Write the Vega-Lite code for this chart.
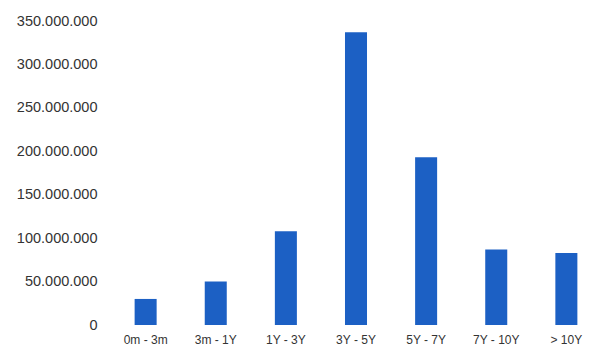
{
  "$schema": "https://vega.github.io/schema/vega-lite/v6.json",
  "width": 468,
  "height": 304,
  "autosize": {"type": "none"},
  "padding": {"left": 122, "top": 21, "right": 0, "bottom": 22},
  "background": "white",
  "config": {
    "view": {"stroke": null},
    "font": "Liberation Sans"
  },
  "data": {
    "values": [
      {"bucket": "0m - 3m", "amount": 30000000},
      {"bucket": "3m - 1Y", "amount": 50000000},
      {"bucket": "1Y - 3Y", "amount": 108000000},
      {"bucket": "3Y - 5Y", "amount": 337000000},
      {"bucket": "5Y - 7Y", "amount": 193000000},
      {"bucket": "7Y - 10Y", "amount": 87000000},
      {"bucket": "> 10Y", "amount": 83000000}
    ]
  },
  "mark": {"type": "bar", "color": "#1c60c4"},
  "encoding": {
    "x": {
      "field": "bucket",
      "type": "nominal",
      "sort": null,
      "scale": {"paddingInner": 0.686, "paddingOuter": 0.18},
      "axis": {
        "title": null,
        "labelAngle": 0,
        "domain": false,
        "ticks": false,
        "labelPadding": 9,
        "labelFontSize": 12,
        "labelColor": "#333333"
      }
    },
    "y": {
      "field": "amount",
      "type": "quantitative",
      "scale": {"domain": [0, 350000000], "nice": false},
      "axis": {
        "title": null,
        "values": [0, 50000000, 100000000, 150000000, 200000000, 250000000, 300000000, 350000000],
        "labelExpr": "replace(format(datum.value, ',d'), /,/g, '.')",
        "grid": false,
        "domain": false,
        "ticks": false,
        "labelPadding": 25,
        "labelFontSize": 14.5,
        "labelColor": "#333333"
      }
    }
  }
}
